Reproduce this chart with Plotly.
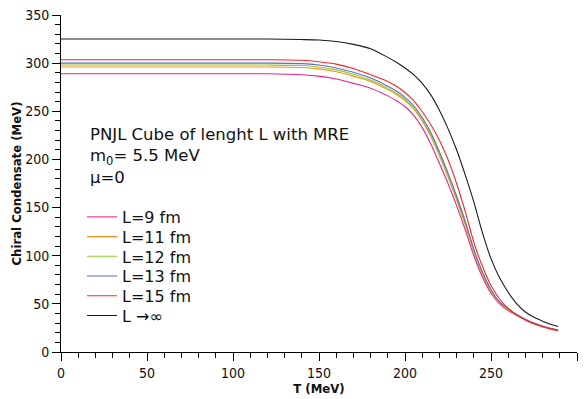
import plotly.graph_objects as go

T = [0, 20, 40, 60, 80, 100, 120, 140, 150, 160, 170, 180, 190, 195, 200, 205, 210, 215,
     220, 225, 230, 235, 240, 245, 250, 255, 260, 265, 270, 275, 280, 285, 289]

L9 = [289, 289, 289, 289, 289, 289, 289, 288, 286.5, 283.5, 279, 274, 266, 261, 255, 246, 233, 216,
      196, 175, 152, 127, 100, 78, 61, 50, 43, 38, 33, 29, 26, 23.5, 22]
L11 = [296, 296, 296, 296, 296, 296, 296, 295.5, 294, 291, 286.5, 281, 272.5, 267.5, 261, 252.5, 240, 224,
       204, 182, 158, 132, 104, 81, 63, 51, 44, 38.5, 33.5, 29.5, 26.5, 24, 22.5]
L12 = [298, 298, 298, 298, 298, 298, 298, 297.5, 296, 293, 288.5, 282.5, 274, 269, 262.5, 254, 241.5, 226,
       206, 184, 160, 134, 105, 82, 64, 51.5, 44.5, 38.5, 33.5, 29.5, 26.5, 24, 22.5]
L13 = [300, 300, 300, 300, 300, 300, 300, 299.5, 298, 295, 290.5, 284.5, 276, 271, 264.5, 256, 243.5, 228,
       208, 186, 162, 136, 107, 83, 65, 52, 45, 39, 34, 30, 27, 24.5, 23]
L15 = [303.5, 303.5, 303.5, 303.5, 303.5, 303.5, 303.5, 303, 301.5, 299, 294.5, 288, 281, 276, 269.5, 261, 249.5, 236,
       220, 200, 175, 146, 114, 89, 69, 55, 45, 38.5, 33.5, 29.5, 26.5, 24, 22.5]
Linf = [325, 325, 325, 325, 325, 325, 325, 324.5, 324, 322.5, 319.5, 315, 306, 301, 295, 288, 279, 267,
        251, 232, 210, 184, 156, 124, 97, 77, 62, 50, 41.5, 36, 32, 28.5, 26.5]

names = ["L=9 fm", "L=11 fm", "L=12 fm", "L=13 fm", "L=15 fm", "L \u2192\u221e"]
series = [L9, L11, L12, L13, L15, Linf]
colors = ["#e8248c", "#f5901e", "#8ccc2c", "#5a6ec4", "#ff2424", "#1a1a1a"]

fig = go.Figure()
legend_ids = ["legend", "legend2", "legend3", "legend4", "legend5", "legend6"]
for name, ys, c, lid in zip(names, series, colors, legend_ids):
    fig.add_trace(go.Scatter(x=T, y=ys, mode="lines", name=name,
                             line=dict(color=c, width=1.1, shape="spline", smoothing=0.7),
                             legend=lid))

# plot area in pixels: x 61..577, y 10..352
def px_x(p):
    return (p - 61) / 516.0

def px_y(p):
    return (352 - p) / 342.0

leg_font = dict(family="DejaVu Sans, Verdana, sans-serif", size=16, color="#111")
layout_legends = {}
for i, lid in enumerate(legend_ids):
    layout_legends[lid] = dict(
        x=px_x(82), y=px_y(215 + 20.0 * i), xanchor="left", yanchor="middle",
        bgcolor="rgba(0,0,0,0)", borderwidth=0, font=leg_font,
        itemclick=False, itemdoubleclick=False,
    )

tick_font = dict(family="DejaVu Sans Condensed, DejaVu Sans, sans-serif", size=14, color="#111")
title_font = dict(family="DejaVu Sans Condensed, DejaVu Sans, sans-serif", size=13, color="#111",
                  weight="bold")

fig.update_layout(
    width=584, height=399,
    margin=dict(l=61, r=7, t=10, b=47),
    paper_bgcolor="white", plot_bgcolor="white",
    showlegend=True,
    **layout_legends,
    xaxis=dict(range=[0, 300], dtick=50, tick0=0, showgrid=False, zeroline=False,
               showline=True, linecolor="black", linewidth=1,
               ticks="outside", ticklen=8, tickcolor="black", tickwidth=1,
               minor=dict(dtick=10, ticks="outside", ticklen=5, tickcolor="black", showgrid=False),
               tickfont=tick_font,
               title=dict(text="T (MeV)", font=title_font, standoff=0)),
    yaxis=dict(range=[0, 350], dtick=50, tick0=0, showgrid=False, zeroline=False,
               showline=True, linecolor="black", linewidth=1,
               ticks="outside", ticklen=8, tickcolor="black", tickwidth=1,
               minor=dict(dtick=10, ticks="outside", ticklen=5, tickcolor="black", showgrid=False),
               tickfont=tick_font,
               title=dict(text="Chiral Condensate (MeV)", font=title_font, standoff=0)),
)

fig.add_annotation(
    xref="paper", yref="paper", x=px_x(88), y=px_y(153), xanchor="left", yanchor="middle",
    align="left", showarrow=False,
    text="PNJL Cube of lenght L with MRE<br>m<sub>0</sub>= 5.5 MeV<br>\u03bc=0",
    font=dict(family="DejaVu Sans, Verdana, sans-serif", size=16.5, color="#111"),
)

fig.write_html("out.html")
